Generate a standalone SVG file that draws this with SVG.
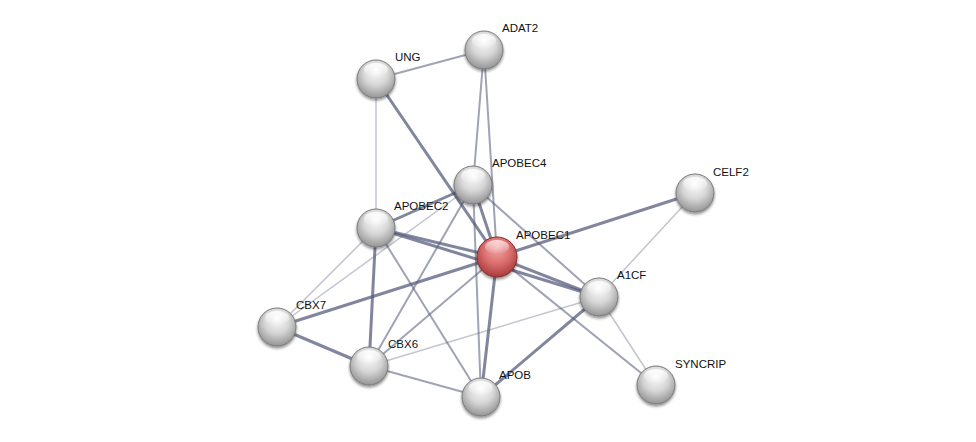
<svg xmlns="http://www.w3.org/2000/svg" width="976" height="442" viewBox="0 0 976 442">
<defs>
<radialGradient id="gGray" cx="50%" cy="40%" r="60%" fx="50%" fy="25%">
<stop offset="0" stop-color="#ffffff"/>
<stop offset="0.55" stop-color="#d6d6d6"/>
<stop offset="1" stop-color="#959595"/>
</radialGradient>
<radialGradient id="gRed" cx="50%" cy="40%" r="60%" fx="50%" fy="25%">
<stop offset="0" stop-color="#f4aaaa"/>
<stop offset="0.55" stop-color="#dc6f6f"/>
<stop offset="1" stop-color="#a83c3c"/>
</radialGradient>
<linearGradient id="gloss" x1="0" y1="0" x2="0" y2="1">
<stop offset="0" stop-color="#ffffff" stop-opacity="0.9"/>
<stop offset="1" stop-color="#ffffff" stop-opacity="0"/>
</linearGradient>
<filter id="sh" x="-30%" y="-30%" width="160%" height="170%">
<feGaussianBlur in="SourceAlpha" stdDeviation="1.5"/>
<feOffset dy="2" result="b"/>
<feComponentTransfer><feFuncA type="linear" slope="0.45"/></feComponentTransfer>
<feMerge><feMergeNode/><feMergeNode in="SourceGraphic"/></feMerge>
</filter>
</defs>
<style>
.e{stroke:#505778;fill:none;stroke-linecap:round}
.t{stroke-width:3;stroke-opacity:0.72}
.m{stroke-width:2;stroke-opacity:0.55}
.l{stroke-width:1.5;stroke-opacity:0.35}
.n{fill:url(#gGray);stroke:#7a7a7a;stroke-width:1}
.r{fill:url(#gRed);stroke:#8a2e2e;stroke-width:1}
.h{fill:url(#gloss)}
.lb{font-family:"Liberation Sans",Arial,sans-serif;font-size:11.5px;fill:#111111}
</style>
<rect width="976" height="442" fill="#ffffff"/>
<g id="edges">
<line class="e m" x1="376" y1="79" x2="484" y2="50"/>
<line class="e l" x1="376" y1="79" x2="376" y2="228"/>
<line class="e t" x1="376" y1="79" x2="497" y2="257"/>
<line class="e m" x1="484" y1="50" x2="473" y2="185"/>
<line class="e m" x1="484" y1="50" x2="497" y2="257"/>
<line class="e t" x1="473" y1="185" x2="376" y2="228"/>
<line class="e t" x1="473" y1="185" x2="497" y2="257"/>
<line class="e m" x1="473" y1="185" x2="599" y2="297"/>
<line class="e m" x1="473" y1="185" x2="369" y2="366"/>
<line class="e m" x1="473" y1="185" x2="481" y2="397"/>
<line class="e l" x1="473" y1="185" x2="277" y2="327"/>
<line class="e t" x1="376" y1="228" x2="497" y2="257"/>
<line class="e t" x1="376" y1="228" x2="599" y2="297"/>
<line class="e l" x1="376" y1="228" x2="277" y2="327"/>
<line class="e t" x1="376" y1="228" x2="369" y2="366"/>
<line class="e m" x1="376" y1="228" x2="481" y2="397"/>
<line class="e t" x1="497" y1="257" x2="695" y2="193"/>
<line class="e t" x1="497" y1="257" x2="599" y2="297"/>
<line class="e t" x1="497" y1="257" x2="277" y2="327"/>
<line class="e m" x1="497" y1="257" x2="369" y2="366"/>
<line class="e t" x1="497" y1="257" x2="481" y2="397"/>
<line class="e m" x1="497" y1="257" x2="656" y2="385"/>
<line class="e l" x1="695" y1="193" x2="599" y2="297"/>
<line class="e l" x1="599" y1="297" x2="369" y2="366"/>
<line class="e t" x1="599" y1="297" x2="481" y2="397"/>
<line class="e l" x1="599" y1="297" x2="656" y2="385"/>
<line class="e t" x1="277" y1="327" x2="369" y2="366"/>
<line class="e m" x1="369" y1="366" x2="481" y2="397"/>
</g>
<g id="UNG" filter="url(#sh)"><circle class="n" cx="376" cy="79" r="19"/><ellipse class="h" cx="376" cy="70" rx="12" ry="7"/></g>
<g id="ADAT2" filter="url(#sh)"><circle class="n" cx="484" cy="50" r="19"/><ellipse class="h" cx="484" cy="41" rx="12" ry="7"/></g>
<g id="APOBEC4" filter="url(#sh)"><circle class="n" cx="473" cy="185" r="19"/><ellipse class="h" cx="473" cy="176" rx="12" ry="7"/></g>
<g id="CELF2" filter="url(#sh)"><circle class="n" cx="695" cy="193" r="19"/><ellipse class="h" cx="695" cy="184" rx="12" ry="7"/></g>
<g id="APOBEC2" filter="url(#sh)"><circle class="n" cx="376" cy="228" r="19"/><ellipse class="h" cx="376" cy="219" rx="12" ry="7"/></g>
<g id="APOBEC1" filter="url(#sh)"><circle class="r" cx="497" cy="257" r="20"/><ellipse class="h" cx="497" cy="247" rx="12" ry="7" opacity="0.8"/></g>
<g id="A1CF" filter="url(#sh)"><circle class="n" cx="599" cy="297" r="19"/><ellipse class="h" cx="599" cy="288" rx="12" ry="7"/></g>
<g id="CBX7" filter="url(#sh)"><circle class="n" cx="277" cy="327" r="19"/><ellipse class="h" cx="277" cy="318" rx="12" ry="7"/></g>
<g id="CBX6" filter="url(#sh)"><circle class="n" cx="369" cy="366" r="19"/><ellipse class="h" cx="369" cy="357" rx="12" ry="7"/></g>
<g id="APOB" filter="url(#sh)"><circle class="n" cx="481" cy="397" r="19"/><ellipse class="h" cx="481" cy="388" rx="12" ry="7"/></g>
<g id="SYNCRIP" filter="url(#sh)"><circle class="n" cx="656" cy="385" r="19"/><ellipse class="h" cx="656" cy="376" rx="12" ry="7"/></g>
<g id="labels">
<text class="lb" x="395" y="61">UNG</text>
<text class="lb" x="502" y="32">ADAT2</text>
<text class="lb" x="492" y="167">APOBEC4</text>
<text class="lb" x="394" y="210">APOBEC2</text>
<text class="lb" x="516" y="239">APOBEC1</text>
<text class="lb" x="713" y="176">CELF2</text>
<text class="lb" x="617" y="279">A1CF</text>
<text class="lb" x="296" y="309">CBX7</text>
<text class="lb" x="388" y="348">CBX6</text>
<text class="lb" x="499" y="379">APOB</text>
<text class="lb" x="675" y="368">SYNCRIP</text>
</g>
</svg>
